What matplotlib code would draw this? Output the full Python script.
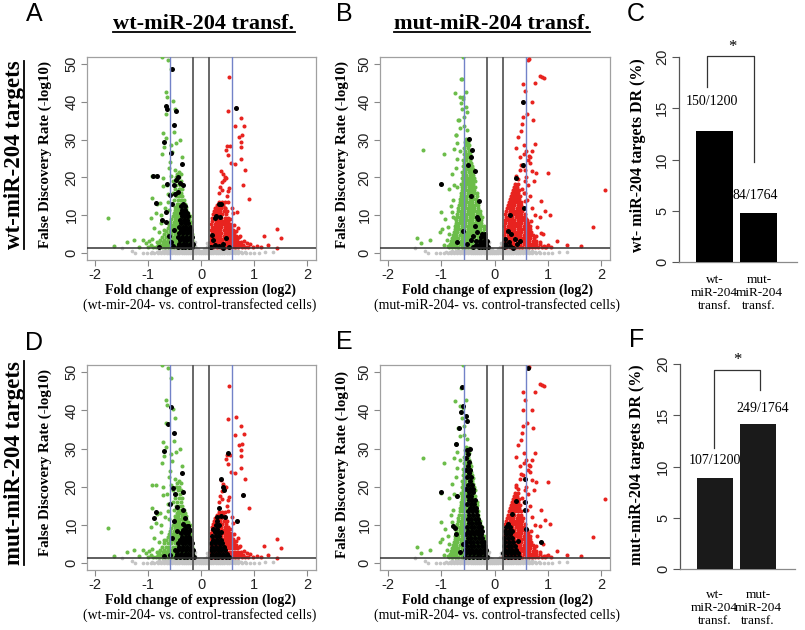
import matplotlib
matplotlib.use('Agg')
import matplotlib.pyplot as plt
from matplotlib.lines import Line2D

plt.rcParams['font.family'] = ['Liberation Sans', 'DejaVu Sans']

# ---------------- data ----------------
# wt-miR-204 transfection experiment: significantly down (green) genes, rows of (FDR, [fold changes])
wt_down_rows = [
    (1.5, [-0.86, -0.80, -0.74, -0.69, -0.63, -0.57, -0.52, -0.46, -0.41, -0.35, -0.30, -0.24, -0.19]),
    (2.1, [-0.82, -0.76, -0.70, -0.64, -0.58, -0.53, -0.47, -0.42, -0.36, -0.31, -0.25, -0.20, -0.16]),
    (2.8, [-0.79, -0.72, -0.66, -0.60, -0.55, -0.49, -0.44, -0.38, -0.33, -0.27, -0.22, -0.17]),
    (3.5, [-0.77, -0.70, -0.63, -0.57, -0.51, -0.46, -0.40, -0.35, -0.29, -0.24, -0.18]),
    (4.3, [-0.73, -0.66, -0.60, -0.54, -0.48, -0.43, -0.37, -0.31, -0.26, -0.20, -0.17]),
    (5.1, [-0.70, -0.62, -0.56, -0.50, -0.45, -0.39, -0.34, -0.28, -0.22, -0.18]),
    (5.9, [-0.66, -0.59, -0.53, -0.47, -0.42, -0.36, -0.30, -0.25, -0.20]),
    (6.7, [-0.63, -0.57, -0.51, -0.45, -0.40, -0.34, -0.28, -0.23, -0.19]),
    (7.5, [-0.61, -0.55, -0.49, -0.43, -0.37, -0.32, -0.26, -0.21]),
    (8.3, [-0.58, -0.52, -0.46, -0.41, -0.35, -0.30, -0.24, -0.20]),
    (9.1, [-0.56, -0.50, -0.44, -0.39, -0.33, -0.28, -0.23]),
    (9.9, [-0.54, -0.48, -0.42, -0.37, -0.31, -0.26, -0.22]),
    (10.7, [-0.52, -0.46, -0.41, -0.35, -0.30, -0.25]),
    (11.5, [-0.50, -0.44, -0.39, -0.34, -0.29]),
    (12.3, [-0.49, -0.43, -0.37, -0.32, -0.28]),
    (13.1, [-0.46, -0.40, -0.35, -0.30]),
    (14.0, [-0.51, -0.44, -0.38, -0.33]),
    (15.0, [-0.48, -0.41, -0.36]),
    (16.0, [-0.53, -0.45, -0.39]),
    (17.0, [-0.50, -0.42, -0.37]),
    (18.0, [-0.47, -0.40]),
    (19.0, [-0.54, -0.43, -0.38]),
    (20.0, [-0.48, -0.41]),
    (21.0, [-0.45, -0.39]),
    (22.0, [-0.50]),
]
wt_down_extra = [(-1.76, 9.2), (-1.64, 1.9), (-1.39, 3.0), (-1.26, 3.4), (-1.17, 1.7), (-1.09, 3.4),
                 (-1.04, 2.6), (-0.98, 3.2), (-0.92, 3.7), (-0.84, 3.0), (-0.94, 9.4), (-0.93, 14.5),
                 (-0.85, 10.5), (-0.84, 12.9), (-0.78, 13.2), (-0.72, 17.8), (-0.72, 19.8), (-0.65, 18.0),
                 (-0.92, 20.5), (-0.85, 20.5), (-0.74, 52.0), (-0.62, 51.1), (-0.67, 42.7), (-0.64, 41.4),
                 (-0.66, 36.8), (-0.72, 31.7), (-0.66, 30.5), (-0.51, 32.1), (-0.57, 28.6), (-0.55, 26.8),
                 (-0.47, 29.0), (-0.40, 29.9), (-0.36, 25.5), (-0.42, 21.5), (-0.73, 26.2), (-0.70, 28.0),
                 (-0.49, 38.1), (-0.53, 40.3), (-0.57, 48.6), (-0.62, 15.5), (-0.68, 12.0), (-0.75, 8.0),
                 (-0.70, 6.0), (-0.80, 5.5), (-0.88, 6.5), (-0.76, 10.0), (-0.60, 22.5), (-0.58, 24.0),
                 (-0.56, 20.5), (-0.63, 13.5), (-0.60, 11.5), (-1.00, 1.6), (-0.95, 2.2), (-0.90, 1.5)]

# wt experiment: significantly up (red) genes
wt_up_rows = [
    (1.5, [0.17, 0.23, 0.29, 0.35, 0.41, 0.46, 0.52, 0.58, 0.64, 0.70, 0.76, 0.82, 0.88]),
    (2.2, [0.19, 0.25, 0.31, 0.37, 0.43, 0.49, 0.55, 0.61, 0.67, 0.73, 0.79]),
    (3.0, [0.17, 0.23, 0.28, 0.34, 0.40, 0.46, 0.52, 0.58, 0.64, 0.70, 0.75]),
    (3.8, [0.19, 0.25, 0.31, 0.37, 0.43, 0.49, 0.55, 0.61, 0.67]),
    (4.6, [0.18, 0.24, 0.30, 0.36, 0.42, 0.48, 0.54, 0.60, 0.66]),
    (5.4, [0.20, 0.26, 0.32, 0.38, 0.44, 0.50, 0.56, 0.62]),
    (6.2, [0.18, 0.24, 0.30, 0.36, 0.42, 0.48, 0.54, 0.59]),
    (7.0, [0.20, 0.26, 0.32, 0.38, 0.44, 0.50, 0.56]),
    (7.8, [0.19, 0.25, 0.31, 0.37, 0.43, 0.49, 0.55]),
    (8.6, [0.21, 0.27, 0.33, 0.39, 0.45, 0.51]),
    (9.4, [0.20, 0.26, 0.32, 0.38, 0.44, 0.50]),
    (10.2, [0.22, 0.28, 0.34, 0.40, 0.46]),
    (11.0, [0.24, 0.30, 0.36, 0.42, 0.48]),
    (11.8, [0.26, 0.32, 0.38, 0.44]),
    (12.6, [0.29, 0.35, 0.41]),
    (13.4, [0.33, 0.39, 0.45]),
]
wt_up_extra = [(0.53, 46.5), (0.65, 38.3), (0.50, 37.7), (0.74, 35.8), (0.80, 33.7), (0.64, 33.6),
               (0.72, 30.8), (0.77, 31.2), (0.75, 29.5), (0.75, 28.0), (0.48, 28.4), (0.55, 28.4),
               (0.47, 27.2), (0.50, 25.9), (0.74, 24.8), (0.56, 23.9), (0.64, 23.5), (0.82, 22.0),
               (0.37, 21.8), (0.41, 20.8), (0.45, 20.0), (0.43, 19.3), (0.47, 19.8), (0.79, 17.9),
               (0.39, 18.9), (0.35, 17.5), (0.33, 16.0), (0.40, 16.8), (0.50, 16.5), (0.52, 17.2),
               (0.89, 14.4), (0.48, 15.0), (0.50, 13.5), (1.43, 6.4), (1.50, 4.0), (1.19, 4.5),
               (1.05, 1.9), (1.25, 2.0), (1.43, 1.3), (0.92, 2.3), (0.86, 2.6), (0.80, 3.2),
               (0.73, 4.5), (0.67, 10.9), (0.58, 12.0), (0.55, 9.0), (0.62, 7.5), (0.66, 5.8),
               (0.72, 4.2), (0.60, 10.5), (0.30, 12.2), (0.37, 12.2), (0.45, 12.0), (0.70, 6.5),
               (0.98, 1.5), (1.12, 1.6)]

# mut-miR-204 transfection experiment: down (green) genes
mut_down_rows = [
    (1.5, [-0.86, -0.80, -0.74, -0.68, -0.62, -0.56, -0.50, -0.44, -0.38, -0.32, -0.26, -0.20, -0.15]),
    (2.3, [-0.84, -0.78, -0.72, -0.66, -0.60, -0.54, -0.48, -0.42, -0.36, -0.30, -0.24, -0.18]),
    (3.1, [-0.82, -0.76, -0.70, -0.64, -0.58, -0.52, -0.46, -0.40, -0.34, -0.28, -0.22, -0.16]),
    (3.9, [-0.80, -0.74, -0.68, -0.62, -0.56, -0.50, -0.44, -0.38, -0.32, -0.26, -0.20]),
    (4.7, [-0.78, -0.72, -0.66, -0.60, -0.54, -0.48, -0.42, -0.36, -0.30, -0.24, -0.18]),
    (5.5, [-0.76, -0.70, -0.64, -0.58, -0.52, -0.46, -0.40, -0.34, -0.28, -0.22]),
    (6.3, [-0.75, -0.69, -0.63, -0.57, -0.51, -0.45, -0.39, -0.33, -0.27, -0.21]),
    (7.1, [-0.74, -0.68, -0.62, -0.56, -0.50, -0.44, -0.38, -0.32, -0.26, -0.21]),
    (7.9, [-0.73, -0.67, -0.61, -0.55, -0.49, -0.43, -0.37, -0.31, -0.25]),
    (8.7, [-0.72, -0.66, -0.60, -0.54, -0.48, -0.42, -0.36, -0.30, -0.25]),
    (9.5, [-0.71, -0.65, -0.59, -0.53, -0.47, -0.41, -0.35, -0.29, -0.24]),
    (10.3, [-0.70, -0.64, -0.58, -0.52, -0.46, -0.40, -0.34, -0.28]),
    (11.1, [-0.69, -0.63, -0.57, -0.51, -0.45, -0.39, -0.33, -0.28]),
    (11.9, [-0.68, -0.62, -0.56, -0.50, -0.44, -0.38, -0.32]),
    (12.7, [-0.67, -0.61, -0.55, -0.49, -0.43, -0.37, -0.31]),
    (13.5, [-0.66, -0.60, -0.54, -0.48, -0.42, -0.36, -0.31]),
    (14.3, [-0.65, -0.59, -0.53, -0.47, -0.41, -0.35]),
    (15.1, [-0.64, -0.58, -0.52, -0.46, -0.40, -0.34]),
    (15.9, [-0.63, -0.57, -0.51, -0.45, -0.39, -0.34]),
    (16.7, [-0.62, -0.56, -0.50, -0.44, -0.38]),
    (17.5, [-0.61, -0.55, -0.49, -0.43, -0.37]),
    (18.3, [-0.64, -0.58, -0.52, -0.46, -0.40]),
    (19.1, [-0.60, -0.54, -0.48, -0.42, -0.37]),
    (19.9, [-0.62, -0.56, -0.50, -0.44, -0.38]),
    (20.7, [-0.59, -0.53, -0.47, -0.41]),
    (21.5, [-0.61, -0.55, -0.49, -0.43]),
    (22.3, [-0.58, -0.52, -0.46, -0.41]),
    (23.1, [-0.60, -0.54, -0.48, -0.43]),
    (23.9, [-0.57, -0.51, -0.45]),
    (24.7, [-0.59, -0.53, -0.47]),
    (25.5, [-0.56, -0.50, -0.45]),
    (26.3, [-0.58, -0.52, -0.47]),
    (27.1, [-0.55, -0.49]),
    (27.9, [-0.57, -0.51]),
    (28.7, [-0.54, -0.49]),
    (29.5, [-0.56, -0.51]),
    (30.3, [-0.53]),
]
mut_down_extra = [(-1.35, 27.4), (-1.45, 4.1), (-1.39, 2.6), (-1.21, 3.4), (-0.95, 26.2), (-0.85, 16.9),
                  (-1.00, 10.8), (-0.98, 6.3), (-1.03, 5.6), (-0.75, 42.5), (-0.64, 46.0), (-0.60, 52.0),
                  (-0.65, 41.2), (-0.59, 40.7), (-0.54, 42.7), (-0.73, 31.2), (-0.65, 33.2), (-0.68, 35.3),
                  (-0.76, 27.5), (-0.81, 10.8), (-0.78, 14.0), (-0.76, 18.0), (-0.72, 22.5), (-0.70, 25.0),
                  (-0.62, 38.0), (-0.57, 36.0), (-0.58, 33.5), (-0.52, 32.5), (-0.93, 9.0), (-0.88, 7.0),
                  (-0.90, 3.5), (-0.95, 2.0), (-1.01, 18.3), (-0.80, 20.8), (-0.62, 46.1), (-0.59, 41.2),
                  (-0.64, 39.7), (-0.54, 38.6), (-0.52, 37.3), (-0.67, 35.3), (-0.73, 31.3), (-0.70, 17.5),
                  (-0.78, 9.6), (-0.75, 9.2), (-0.72, 7.5), (-0.49, 30.2), (-0.82, 12.5), (-0.85, 5.0),
                  (-0.80, 3.0), (-0.88, 1.8), (-0.70, 29.0), (-0.66, 27.0)]

# mut experiment: up (red) genes
mut_up_rows = [
    (1.5, [0.16, 0.22, 0.28, 0.34, 0.40, 0.46, 0.52, 0.58, 0.64, 0.70, 0.76, 0.82, 0.88, 0.94]),
    (2.3, [0.18, 0.24, 0.30, 0.36, 0.42, 0.48, 0.54, 0.60, 0.66, 0.72, 0.78, 0.84]),
    (3.1, [0.17, 0.23, 0.29, 0.35, 0.41, 0.47, 0.53, 0.59, 0.65, 0.71, 0.77]),
    (3.9, [0.19, 0.25, 0.31, 0.37, 0.43, 0.49, 0.55, 0.61, 0.67, 0.73]),
    (4.7, [0.18, 0.24, 0.30, 0.36, 0.42, 0.48, 0.54, 0.60, 0.66, 0.72]),
    (5.5, [0.20, 0.26, 0.32, 0.38, 0.44, 0.50, 0.56, 0.62, 0.68]),
    (6.3, [0.19, 0.25, 0.31, 0.37, 0.43, 0.49, 0.55, 0.61, 0.67]),
    (7.1, [0.18, 0.24, 0.30, 0.36, 0.42, 0.48, 0.54, 0.60, 0.66]),
    (7.9, [0.20, 0.26, 0.32, 0.38, 0.44, 0.50, 0.56, 0.62]),
    (8.7, [0.19, 0.25, 0.31, 0.37, 0.43, 0.49, 0.55, 0.61]),
    (9.5, [0.21, 0.27, 0.33, 0.39, 0.45, 0.51, 0.57]),
    (10.3, [0.20, 0.26, 0.32, 0.38, 0.44, 0.50, 0.56]),
    (11.1, [0.22, 0.28, 0.34, 0.40, 0.46, 0.52]),
    (11.9, [0.23, 0.29, 0.35, 0.41, 0.47, 0.53]),
    (12.7, [0.25, 0.31, 0.37, 0.43, 0.49]),
    (13.5, [0.26, 0.32, 0.38, 0.44, 0.50]),
    (14.3, [0.28, 0.34, 0.40, 0.46]),
    (15.1, [0.30, 0.36, 0.42, 0.48]),
    (15.9, [0.32, 0.38, 0.44]),
    (16.7, [0.34, 0.40, 0.46]),
    (17.5, [0.36, 0.42]),
    (18.3, [0.38, 0.44]),
]
mut_up_extra = [(0.64, 51.4), (0.84, 46.9), (0.88, 46.6), (0.92, 46.3), (0.76, 44.9), (0.53, 44.7),
                (0.56, 42.8), (0.53, 40.1), (0.69, 40.1), (0.61, 36.8), (0.53, 35.9), (0.72, 35.3),
                (0.51, 34.1), (0.49, 32.2), (0.44, 30.8), (0.76, 28.8), (0.55, 28.7), (0.40, 27.8),
                (0.59, 27.1), (0.70, 27.1), (0.54, 26.2), (0.64, 25.8), (0.67, 25.3), (0.62, 24.5),
                (0.66, 23.8), (1.00, 21.3), (0.78, 21.2), (0.69, 21.8), (0.50, 23.4), (0.53, 23.0),
                (0.47, 22.0), (0.73, 19.0), (2.06, 16.8), (0.87, 13.8), (0.95, 11.2), (1.03, 10.1),
                (0.84, 9.6), (1.84, 6.8), (1.17, 3.1), (1.36, 2.1), (1.61, 1.8), (0.97, 1.7),
                (0.44, 19.5), (0.40, 20.5), (0.58, 20.0), (0.62, 18.0), (0.52, 17.0), (0.66, 15.0),
                (0.60, 14.0), (0.55, 16.0), (0.70, 12.0), (0.75, 10.0), (0.68, 8.5), (0.80, 7.0),
                (0.78, 4.5), (0.85, 3.0), (0.90, 5.0), (1.00, 2.2), (0.56, 19.0), (0.47, 25.5),
                (0.39, 19.8), (0.57, 22.0), (0.39, 16.3), (0.57, 15.9), (0.56, 13.9), (0.86, 5.4),
                (0.58, 8.9), (0.62, 51.2), (1.06, 1.5), (0.92, 1.8)]

# not significant (grey) genes
ns_rows = [
    (0.05, [-1.10, -1.02, -0.95, -0.88, -0.82, -0.76, -0.70, -0.65, -0.60, -0.55, -0.50, -0.45, -0.41,
            -0.37, -0.33, -0.29, -0.25, -0.21, -0.17, -0.13, -0.09, -0.05, -0.01, 0.03, 0.07, 0.11,
            0.15, 0.19, 0.23, 0.27, 0.31, 0.35, 0.39, 0.43, 0.48, 0.53, 0.58, 0.64, 0.70, 0.77, 0.84,
            0.92, 1.00, 1.08]),
    (0.35, [-0.92, -0.84, -0.77, -0.70, -0.64, -0.58, -0.53, -0.48, -0.43, -0.39, -0.35, -0.31, -0.27,
            -0.23, -0.19, -0.15, -0.11, -0.07, -0.03, 0.01, 0.05, 0.09, 0.13, 0.17, 0.21, 0.25, 0.29,
            0.33, 0.37, 0.41, 0.46, 0.51, 0.56, 0.62, 0.68, 0.75, 0.83]),
    (0.65, [-0.80, -0.72, -0.65, -0.59, -0.53, -0.48, -0.43, -0.38, -0.33, -0.28, -0.24, -0.20, -0.16,
            -0.12, -0.08, -0.04, 0.00, 0.04, 0.08, 0.12, 0.16, 0.20, 0.24, 0.28, 0.33, 0.38, 0.43,
            0.49, 0.55, 0.62, 0.70]),
    (0.95, [-0.68, -0.60, -0.53, -0.46, -0.40, -0.34, -0.28, -0.23, -0.18, -0.14, -0.10, -0.06, 0.06,
            0.10, 0.14, 0.18, 0.23, 0.28, 0.34, 0.40, 0.47, 0.55, 0.63]),
    (1.2, [-0.58, -0.50, -0.42, -0.35, -0.28, -0.21, -0.15, -0.11, 0.11, 0.15, 0.21, 0.28, 0.36, 0.44, 0.52]),
]
ns_extra = [(-0.12, 1.8), (-0.09, 1.4), (0.10, 1.6), (0.13, 2.0), (-0.13, 2.3), (0.11, 2.6),
            (-0.11, 3.0), (-1.49, 1.2), (-1.25, 0.1), (1.20, 0.3), (-1.30, 0.5), (1.35, 0.2)]

# wt-miR-204 targets (black) in wt experiment (panel A)
A_black_rows = [
    (1.6, [-0.44, -0.37, -0.30, -0.23, -0.17]),
    (2.5, [-0.42, -0.35, -0.28, -0.21, -0.16]),
    (3.4, [-0.40, -0.33, -0.26, -0.19]),
    (4.3, [-0.43, -0.36, -0.29, -0.22, -0.17]),
    (5.2, [-0.41, -0.34, -0.27, -0.20]),
    (6.1, [-0.39, -0.32, -0.25, -0.19]),
    (7.0, [-0.42, -0.35, -0.28, -0.22]),
    (7.9, [-0.38, -0.31, -0.24]),
    (8.8, [-0.40, -0.33, -0.27]),
    (9.7, [-0.37, -0.30, -0.25]),
    (10.6, [-0.39, -0.32, -0.27]),
    (11.5, [-0.36, -0.30]),
    (12.4, [-0.38, -0.31]),
    (13.0, [-0.34]),
]
A_black_extra = [(-0.55, 48.6), (-0.67, 38.9), (-0.64, 38.1), (-0.48, 37.7), (-0.52, 34.0), (-0.71, 29.5),
                 (-0.57, 26.4), (-0.36, 23.5), (-0.91, 20.4), (-0.84, 20.4), (-0.44, 20.2), (-0.48, 19.3),
                 (-0.40, 18.6), (-0.52, 18.0), (-0.64, 18.2), (-0.35, 18.0), (-0.59, 15.4), (-0.50, 15.6),
                 (-0.44, 16.1), (-0.86, 13.3), (-0.55, 13.0), (-0.67, 10.8), (-0.74, 8.7), (-0.66, 8.1),
                 (-0.52, 6.1), (-0.79, 1.7), (-0.53, 1.8), (-0.60, 4.5), (-0.56, 3.0),
                 (0.65, 38.3), (0.38, 13.0), (0.33, 13.1), (0.28, 9.8), (0.26, 9.4), (0.36, 9.6),
                 (0.20, 4.9), (0.23, 3.4), (0.17, 1.7), (0.47, 4.1), (0.41, 2.3), (0.41, 1.3),
                 (0.52, 1.7), (0.19, 1.5), (0.26, 2.2), (0.33, 1.8)]

# mut-miR-204 targets (black) in wt experiment (panel D)
D_black_rows = [
    (1.5, [-0.47, -0.40, -0.33, -0.26, -0.19, -0.13]),
    (2.4, [-0.45, -0.38, -0.31, -0.24, -0.17]),
    (3.3, [-0.43, -0.36, -0.29, -0.22, -0.15]),
    (4.2, [-0.41, -0.34, -0.27, -0.20]),
    (5.1, [-0.44, -0.37, -0.30, -0.23, -0.17]),
    (6.0, [-0.40, -0.33, -0.26, -0.20]),
    (6.9, [-0.36, -0.29, -0.23]),
    (7.8, [-0.38, -0.31, -0.25]),
    (8.7, [-0.34, -0.28, -0.22]),
    (9.6, [-0.30, -0.25]),
    (1.5, [0.18, 0.25, 0.32, 0.39, 0.46, 0.53]),
    (2.4, [0.20, 0.27, 0.34, 0.41, 0.49]),
    (3.3, [0.18, 0.24, 0.31, 0.38, 0.45]),
    (4.2, [0.21, 0.28, 0.35, 0.43]),
    (5.1, [0.19, 0.26, 0.33, 0.40]),
    (6.0, [0.23, 0.30, 0.37]),
    (7.0, [0.20, 0.27, 0.34]),
    (8.0, [0.25, 0.31, 0.38]),
    (9.0, [0.22, 0.29]),
    (10.0, [0.27, 0.33]),
    (11.0, [0.30]),
]
D_black_extra = [(-0.56, 40.8), (-0.62, 36.4), (-0.52, 34.2), (-0.70, 29.4), (-0.36, 23.7), (-0.53, 19.7),
                 (-0.50, 18.2), (-0.35, 18.6), (-0.85, 13.4), (-0.88, 11.7), (-0.58, 15.4), (-0.46, 14.6),
                 (-0.35, 14.0), (-0.31, 11.8), (-0.25, 9.8), (-0.35, 10.1), (-0.71, 1.9), (-0.55, 6.5),
                 (-0.50, 3.5), (-0.58, 2.0), (-0.45, 8.5), (-0.52, 11.0),
                 (0.50, 28.7), (0.37, 22.0), (0.41, 20.0), (0.43, 19.2), (0.33, 14.5), (0.79, 17.9),
                 (0.67, 10.9), (0.30, 12.0), (0.37, 12.2), (0.45, 12.0)]

# wt-miR-204 targets (black) in mut experiment (panel B)
B_black_rows = [
    (1.5, [-0.30, -0.24, -0.18, -0.13]),
    (2.4, [-0.28, -0.22, -0.16]),
    (3.3, [-0.27, -0.21, -0.15]),
    (4.2, [-0.25, -0.19]),
    (5.1, [-0.23, -0.18]),
]
B_black_extra = [(-1.01, 18.3), (-0.49, 30.2), (-0.42, 27.3), (-0.45, 25.4), (-0.51, 23.4), (-0.37, 21.8),
                 (-0.44, 15.0), (-0.29, 13.7), (-0.34, 9.5), (-0.31, 9.0), (-0.37, 7.1), (-0.60, 5.7),
                 (-0.70, 2.8), (-0.45, 3.5), (-0.52, 2.4), (-0.40, 4.5), (-0.33, 5.5), (-0.40, 1.6),
                 (-0.36, 2.2), (-0.35, 3.1),
                 (0.53, 40.1), (0.53, 23.4), (0.39, 19.8), (0.29, 10.1), (0.55, 11.8), (0.25, 5.9),
                 (0.31, 5.0), (0.19, 3.6), (0.38, 3.6), (0.47, 3.2), (0.22, 1.9), (0.28, 1.9),
                 (0.42, 2.3), (0.20, 2.5), (0.17, 1.5), (0.34, 1.4), (0.27, 3.0)]

# mut-miR-204 targets (black) in mut experiment (panel E)
E_black_rows = [
    (1.5, [-0.55, -0.48, -0.41, -0.34, -0.27, -0.20, -0.14]),
    (2.5, [-0.53, -0.46, -0.39, -0.32, -0.25, -0.18]),
    (3.5, [-0.56, -0.49, -0.42, -0.35, -0.28, -0.21, -0.16]),
    (4.5, [-0.52, -0.45, -0.38, -0.31, -0.24, -0.18]),
    (5.5, [-0.54, -0.47, -0.40, -0.33, -0.26, -0.20]),
    (6.5, [-0.51, -0.44, -0.37, -0.30, -0.23]),
    (7.5, [-0.53, -0.46, -0.39, -0.32, -0.25]),
    (8.5, [-0.50, -0.43, -0.36, -0.29, -0.24]),
    (9.5, [-0.52, -0.45, -0.38, -0.31, -0.26]),
    (10.5, [-0.49, -0.42, -0.35, -0.29]),
    (11.5, [-0.51, -0.44, -0.37, -0.31]),
    (12.5, [-0.48, -0.41, -0.34]),
    (13.5, [-0.50, -0.43, -0.36]),
    (14.5, [-0.47, -0.40, -0.35]),
    (15.5, [-0.52, -0.45, -0.38]),
    (16.5, [-0.49, -0.42, -0.37]),
    (17.5, [-0.51, -0.44]),
    (18.5, [-0.48, -0.41]),
    (19.5, [-0.53, -0.46, -0.40]),
    (20.5, [-0.50, -0.43]),
    (21.5, [-0.47]),
    (22.5, [-0.52, -0.45]),
    (23.5, [-0.49]),
    (24.5, [-0.54, -0.46]),
    (25.5, [-0.51]),
    (26.5, [-0.48]),
    (27.5, [-0.53]),
    (28.5, [-0.50]),
    (29.5, [-0.52]),
    (30.0, [-0.47]),
    (1.5, [0.17, 0.24, 0.31, 0.38, 0.45]),
    (2.5, [0.16, 0.23, 0.30, 0.37, 0.44]),
    (3.5, [0.19, 0.26, 0.33, 0.40]),
    (4.5, [0.17, 0.24, 0.31, 0.38]),
    (5.5, [0.20, 0.27, 0.34]),
    (6.5, [0.18, 0.25, 0.32]),
    (7.5, [0.21, 0.28]),
    (8.5, [0.19, 0.26, 0.33]),
    (9.5, [0.22, 0.29]),
    (10.3, [0.25]),
]
E_black_extra = [(-0.62, 46.1), (-0.59, 41.2), (-0.64, 39.7), (-0.54, 38.6), (-0.52, 37.3), (-0.67, 35.3),
                 (-0.73, 31.3), (-1.01, 18.6), (-0.70, 17.5), (-0.78, 9.6), (-0.75, 9.2), (-0.72, 7.5),
                 (-0.60, 5.0), (-0.65, 3.0),
                 (0.62, 51.2), (0.57, 22.0), (0.39, 16.3), (0.57, 15.9), (0.56, 13.9), (0.33, 12.8),
                 (0.86, 5.4), (0.58, 8.9), (0.44, 5.8)]

# bar charts
bar_groups = ["wt-\nmiR-204\ntransf.", "mut-\nmiR-204\ntransf."]
C_values = [12.8, 4.8]
C_labels = ["150/1200", "84/1764"]
F_values = [8.9, 14.1]
F_labels = ["107/1200", "249/1764"]

# ---------------- drawing ----------------
W, H = 805, 630
fig = plt.figure(figsize=(W / 100, H / 100), dpi=100)

GREEN = '#6cbd4a'
RED = '#e8231f'
GREY = '#c4c4c4'
BLUE = '#7282c8'
SERIF = ['Liberation Serif', 'DejaVu Serif']
SANS = ['Liberation Sans', 'DejaVu Sans']


def fx(px):
    return px / W


def fy(py):
    return 1 - py / H


def expand(rows, extra=()):
    xs, ys = [], []
    for y, row in rows:
        for x in row:
            xs.append(x)
            ys.append(y)
    for x, y in extra:
        xs.append(x)
        ys.append(y)
    return xs, ys


def volcano(left, top, right, bottom, down, up, black):
    ax = fig.add_axes([fx(left), fy(bottom), (right - left) / W, (bottom - top) / H])
    gx, gy = expand(ns_rows, ns_extra)
    ax.scatter(gx, gy, s=7, c=GREY, linewidths=0, zorder=2)
    dx, dy = down
    ax.scatter(dx, dy, s=8.5, c=GREEN, linewidths=0, zorder=3)
    ux, uy = up
    ax.scatter(ux, uy, s=8.5, c=RED, linewidths=0, zorder=3)
    bx, by = black
    ax.scatter(bx, by, s=13, c='black', linewidths=0, zorder=4)
    for v in (-0.585, 0.585):
        ax.axvline(v, color=BLUE, lw=1.0, zorder=5)
    for v in (-0.15, 0.15):
        ax.axvline(v, color='#5c5c5c', lw=1.3, zorder=5)
    ax.axhline(1.3, color='#333333', lw=1.1, zorder=5)
    ax.set_xlim(-2.15, 2.16)
    ax.set_ylim(-1.85, 51.9)
    ax.set_xticks([-2, -1, 0, 1, 2])
    ax.set_xticklabels(['-2', '-1', '0', '1', '2'], fontsize=10.5, color='#222222', family=SANS)
    ax.set_yticks([0, 10, 20, 30, 40, 50])
    ax.set_yticklabels(['0', '10', '20', '30', '40', '50'], fontsize=10.5, color='#222222',
                       family=SANS, rotation=90, va='center')
    ax.tick_params(length=4, width=0.8, color='#888888', pad=2)
    for sp in ax.spines.values():
        sp.set_color('#a0a0a0')
        sp.set_linewidth(0.9)
    return ax


ax_A = volcano(87, 57, 316, 260, expand(wt_down_rows, wt_down_extra), expand(wt_up_rows, wt_up_extra),
               expand(A_black_rows, A_black_extra))
ax_B = volcano(380, 57, 610, 260, expand(mut_down_rows, mut_down_extra), expand(mut_up_rows, mut_up_extra),
               expand(B_black_rows, B_black_extra))
ax_D = volcano(87, 365, 316, 570, expand(wt_down_rows, wt_down_extra), expand(wt_up_rows, wt_up_extra),
               expand(D_black_rows, D_black_extra))
ax_E = volcano(380, 365, 610, 570, expand(mut_down_rows, mut_down_extra), expand(mut_up_rows, mut_up_extra),
               expand(E_black_rows, E_black_extra))

# volcano axis labels
for xc, yc in ((45, 154), (342, 154), (45, 463), (342, 465)):
    fig.text(fx(xc), fy(yc), 'False Discovery Rate (-log10)', rotation=90, ha='center', va='center',
             fontsize=10.8, fontweight='bold', family=SERIF)
for xc, yc, sub in ((200, 290, '(wt-mir-204- vs. control-transfected cells)'),
                    (497, 290, '(mut-miR-204- vs. control-transfected cells)'),
                    (200, 600, '(wt-mir-204- vs. control-transfected cells)'),
                    (497, 600, '(mut-miR-204- vs. control-transfected cells)')):
    fig.text(fx(xc), fy(yc), 'Fold change of expression (log2)', ha='center', va='center',
             fontsize=10, fontweight='bold', family=SERIF)
    fig.text(fx(xc), fy(yc + 15), sub, ha='center', va='center', fontsize=10, family=SERIF)


def barpanel(left, top, right, bottom, values, labels, color, ylabel, ylab_x, ylab_y,
             label_pos, bracket, star, xlab_y):
    ax = fig.add_axes([fx(left), fy(bottom), (right - left) / W, (bottom - top) / H])
    pos = [0.7, 1.9]
    ax.bar(pos, values, width=1.0, color=color, zorder=3)
    ax.set_xlim(-0.26, 2.93)
    ax.set_ylim(0, 20)
    ax.set_xticks([])
    ax.set_yticks([0, 5, 10, 15, 20])
    ax.set_yticklabels(['0', '5', '10', '15', '20'], fontsize=10.5, color='#222222', family=SANS,
                       rotation=90, va='center')
    ax.tick_params(axis='y', length=5, width=0.8, color='#555555', pad=2)
    ax.spines['top'].set_visible(False)
    ax.spines['right'].set_visible(False)
    ax.spines['left'].set_color('#555555')
    ax.spines['left'].set_linewidth(0.9)
    ax.spines['bottom'].set_color('#8a8a8a')
    ax.spines['bottom'].set_linewidth(0.9)
    for (lx, ly), txt in zip(label_pos, labels):
        ax.text(lx, ly, txt, ha='center', va='center', fontsize=10, family=SERIF, clip_on=False)
    bxs, bys = bracket
    ax.plot(bxs, bys, color='#333333', lw=0.9, clip_on=False, zorder=4)
    ax.text(star[0], star[1], '*', ha='center', va='center', fontsize=12, family=SERIF, clip_on=False)
    for p, g in zip(pos, bar_groups):
        xd = ax.transData.transform((p, 0))[0]
        xf = fig.transFigure.inverted().transform((xd, 0))[0]
        fig.text(xf, fy(xlab_y), g, ha='center', va='center', fontsize=9.5, family=SERIF,
                 linespacing=1.15)
    fig.text(fx(ylab_x), fy(ylab_y), ylabel, rotation=90, ha='center', va='center', fontsize=11.5,
             fontweight='bold', family=SERIF)
    return ax


barpanel(679, 57, 797, 262, C_values, C_labels, '#000000', 'wt- miR-204 targets DR (%)', 638, 155,
         [(0.63, 15.7), (1.79, 6.5)],
         ([0.49, 0.49, 1.77, 1.77], [17.1, 20.1, 20.1, 9.8]), (1.17, 21.0), 293)
barpanel(680, 364, 795, 569, F_values, F_labels, '#1a1a1a', 'mut-miR-204 targets DR (%)', 637, 465,
         [(0.71, 10.6), (2.02, 15.7)],
         ([0.69, 0.69, 1.95, 1.95], [11.8, 19.4, 19.4, 17.5]), (1.33, 20.4), 608)

# panel letters
for letter, px, py in (('A', 34, 14), ('B', 344, 14), ('C', 636, 14),
                       ('D', 34, 343), ('E', 344, 342), ('F', 637, 340)):
    fig.text(fx(px), fy(py), letter, ha='center', va='center', fontsize=18, family=SANS)

# titles and row labels (underlined)
t1 = fig.text(fx(204), fy(24), 'wt-miR-204 transf.', ha='center', va='center', fontsize=16,
              fontweight='bold', family=SERIF)
t2 = fig.text(fx(492), fy(24), 'mut-miR-204 transf.', ha='center', va='center', fontsize=16,
              fontweight='bold', family=SERIF)
r1 = fig.text(fx(15), fy(155), 'wt-miR-204 targets', rotation=90, ha='center', va='center',
              fontsize=16.5, fontweight='bold', family=SERIF)
r2 = fig.text(fx(15), fy(463), 'mut-miR-204 targets', rotation=90, ha='center', va='center',
              fontsize=16.5, fontweight='bold', family=SERIF)

fig.canvas.draw()
renderer = fig.canvas.get_renderer()
inv = fig.transFigure.inverted()
for t in (t1, t2):
    bb = t.get_window_extent(renderer)
    (x0, y0), (x1, _) = inv.transform([(bb.x0, bb.y0 + 2), (bb.x1, bb.y0 + 2)])
    fig.add_artist(Line2D([x0, x1], [y0, y0], color='black', lw=1.3, transform=fig.transFigure))
for t in (r1, r2):
    bb = t.get_window_extent(renderer)
    (x0, y0), (_, y1) = inv.transform([(bb.x1 - 2, bb.y0), (bb.x1 - 2, bb.y1)])
    fig.add_artist(Line2D([x0, x0], [y0, y1], color='black', lw=1.3, transform=fig.transFigure))

fig.savefig('out.png', dpi=100)
